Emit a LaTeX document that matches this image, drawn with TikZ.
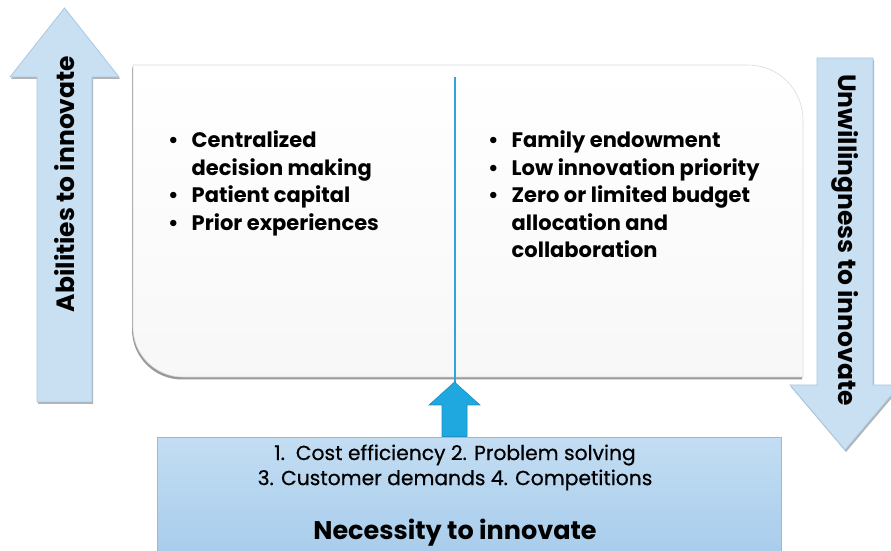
\documentclass[tikz,border=0pt]{standalone}
\usepackage{fontspec}
\setmainfont{Poppins}
\newfontfamily\medfont{Poppins}[FakeBold=0.6]
\usetikzlibrary{positioning}

\definecolor{arrowfill}{HTML}{C9DFF2}
\definecolor{arrowline}{HTML}{A9C8E4}
\definecolor{needtop}{HTML}{C3DDF3}
\definecolor{needbot}{HTML}{A3CAEA}
\definecolor{needline}{HTML}{7FC3E8}
\definecolor{pushblue}{HTML}{1FA8E0}
\definecolor{pushline}{HTML}{1A90C6}
\definecolor{splitline}{HTML}{2FA4DE}

\begin{document}
\begin{tikzpicture}[x=1pt, y=1pt,
    bigarrow/.style={fill=arrowfill, draw=arrowline, line width=0.8pt,
      preaction={fill=black!30, transform canvas={shift={(1pt,-2pt)}}}},
    sidelabel/.style={font=\fontsize{25}{29}\selectfont\bfseries, inner sep=0pt},
    bullets/.style={font=\fontsize{21}{27.5}\selectfont\bfseries, inner sep=0pt, anchor=base west},
    needbox/.style={draw=needline, top color=needtop, bottom color=needbot, line width=0.8pt},
    needtext/.style={font=\medfont\fontsize{20.3}{24}\selectfont, inner sep=0pt}]
  \useasboundingbox (0,0) rectangle (891,551);
  \clip (0,0) rectangle (891,551);

  \draw[bigarrow] (37,149) -- (37,474) -- (10,474) -- (64.5,543) -- (119,474) -- (92,474) -- (92,149) -- cycle;
  \node[sidelabel, rotate=90] (abil) at (64.5,367) {Abilities to innovate};

  \draw[bigarrow] (817,493) -- (873,493) -- (873,166) -- (900,166) -- (845,101) -- (790,166) -- (817,166) -- cycle;
  \node[sidelabel, rotate=-90] (unwill) at (845,311) {Unwillingness to innovate};

  \draw[draw=black!14, line width=0.6pt, top color=white, bottom color=black!3,
    preaction={fill=black!40, transform canvas={shift={(-1pt,-2.5pt)}}}]
    (133,486) -- (748,486) arc[start angle=90, end angle=0, radius=55] -- (803,174)
    -- (183,174) arc[start angle=270, end angle=180, radius=50] -- cycle;
  \coordinate (split) at (455,474);

  \node[bullets] (able) at (168,403) {\begin{tabular}[t]{@{}l@{\hspace{13pt}}l@{}}
    \textbullet & Centralized\\
                & decision making\\
    \textbullet & Patient capital\\
    \textbullet & Prior experiences
  \end{tabular}};
  \node[bullets] (unable) at (488,403) {\begin{tabular}[t]{@{}l@{\hspace{13pt}}l@{}}
    \textbullet & Family endowment\\
    \textbullet & Low innovation priority\\
    \textbullet & Zero or limited budget\\
                & allocation and\\
                & collaboration
  \end{tabular}};

  \node[needbox, minimum width=624, minimum height=135, anchor=north] (need) at (469,114) {};
  \draw[splitline, line width=1.1pt] (split) -- (split |- need.north);
  \draw[fill=pushblue, draw=pushline, line width=0.6pt] (442,114.5) -- (442,146) -- (429,146) -- (454.5,169) -- (480,146) -- (467,146) -- (467,114.5) -- cycle;

  \node[needtext] (why1) at (455,96) {1.\ \ Cost efficiency 2. Problem solving};
  \node[needtext] (why2) at (455,71) {3. Customer demands 4. Competitions};
  \node[font=\fontsize{25.5}{30}\selectfont\bfseries, inner sep=0pt] (necessity) at (455,18) {Necessity to innovate};
\end{tikzpicture}
\end{document}
